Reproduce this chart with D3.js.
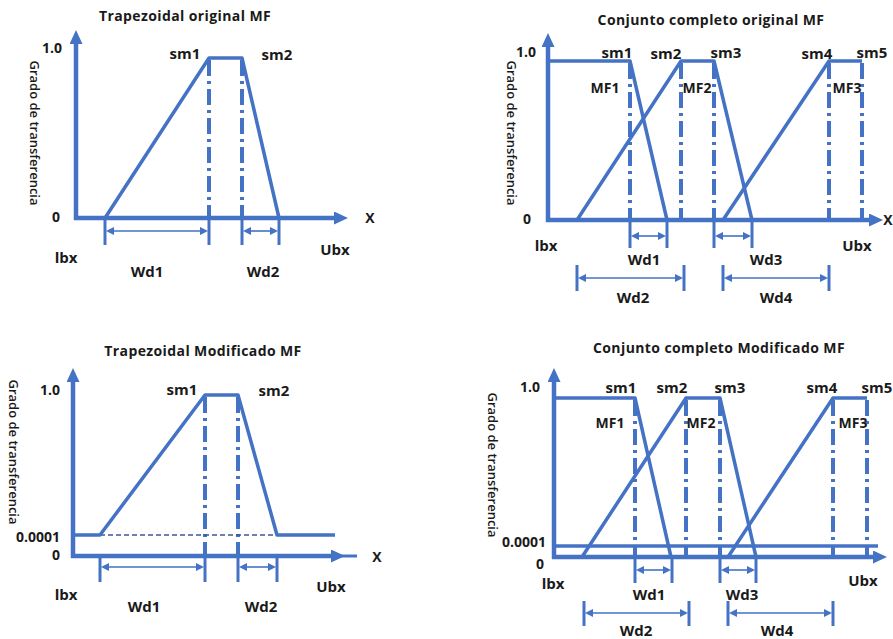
<!DOCTYPE html>
<html lang="es">
<head>
<meta charset="UTF-8">
<script src="https://d3js.org/d3.v7.min.js"></script>
<title>Funciones de pertenencia trapezoidales</title>
<style>
  body { margin: 0; background: #fff; }
  text { font-family: "Open Sans", sans-serif; font-weight: 700; fill: #1a1a1a; }
</style>
</head>
<body>
<svg width="893" height="639"></svg>
<script>
// ---- data: x in panel units (from the y axis), y = grado de transferencia ----
var origTrap = [[29,0],[133,1],[166,1],[203,0]];
var modTrap  = [[0,0.0001],[27,0.0001],[132,1],[165,1],[204,0.0001],[262,0.0001]];
var origMF1 = [[0,1],[82,1],[119,0]];
var origMF2 = [[29,0],[133,1],[166,1],[204,0]];
var origMF3 = [[175,0],[281,1],[314,1]];
var modMF1 = [[0,1],[81,1],[117,0]];
var modMF2 = [[28,0],[132,1],[166,1],[202,0]];
var modMF3 = [[174,0],[279,1],[313,1]];
var modFloor = [[0,0.0001],[324,0.0001]];
var modDashed = [[27,0.0001],[204,0.0001]];

// centres of the core (dash-dot verticals)
var smOrigTrap = [133,166];
var smModTrap  = [132,165];
var smOrigSet  = [82,133,166,281,314];
var smModSet   = [81,132,166,279,313];

// widths: [from, to, name]
var wdOrigTrap = [[29,133,"Wd1"],[166,203,"Wd2"]];
var wdModTrap  = [[27,132,"Wd1"],[165,204,"Wd2"]];
var wdOrigSetA = [[82,119,"Wd1"],[166,204,"Wd3"]];
var wdOrigSetB = [[29,136,"Wd2"],[175,281,"Wd4"]];
var wdModSetA  = [[81,118,"Wd1"],[166,202,"Wd3"]];
var wdModSetB  = [[30,135,"Wd2"],[174,279,"Wd4"]];

var yTicksOrig = [1, 0];
var yTicksMod  = [1, 0.0001, 0];
var yTickText  = function(v) { return v === 1 ? "1.0" : v === 0 ? "0" : "0.0001"; };

var blue = "#4472c4";
var svg = d3.select("svg");
var defs = svg.append("defs");

function marker(id, len, wid) {
  defs.append("marker").attr("id", id)
    .attr("viewBox", "0 0 10 10").attr("refX", 0).attr("refY", 5)
    .attr("preserveAspectRatio", "none")
    .attr("markerUnits", "userSpaceOnUse")
    .attr("markerWidth", len).attr("markerHeight", wid)
    .attr("orient", "auto-start-reverse")
    .append("path").attr("d", "M0,0L10,5L0,10Z").attr("fill", blue);
}
marker("axHead", 14, 13);
marker("dimHead", 8, 8);

function drawPanel(p) {
  var g = svg.append("g");
  var x = d3.scaleLinear().domain([0, p.len]).range([p.ox, p.ox + p.len]);
  var y = p.mod
    ? d3.scaleLinear().domain([0, 0.0001, 1]).range([p.oy, p.yEps, p.y1])
    : d3.scaleLinear().domain([0, 1]).range([p.oy, p.y1]);
  var line = d3.line().x(function(d) { return x(d[0]); }).y(function(d) { return y(d[1]); });

  // title
  g.append("text").attr("x", p.title[1]).attr("y", p.title[2])
    .attr("text-anchor", "middle").style("font-size", "14px").style("letter-spacing", "0.4px")
    .text(p.title[0]);

  // y label
  g.append("text")
    .attr("transform", "translate(" + p.ylab[0] + "," + p.ylab[1] + ") rotate(90)")
    .attr("text-anchor", "middle").attr("dominant-baseline", "central")
    .style("font-size", "13px").style("font-weight", "600")
    .text("Grado de transferencia");

  // dash-dot verticals
  g.selectAll(".sm").data(p.sm).enter().append("line")
    .attr("x1", function(d) { return x(d); }).attr("x2", function(d) { return x(d); })
    .attr("y1", y(1) + 2).attr("y2", y(0))
    .attr("stroke", blue).attr("stroke-width", 4)
    .attr("stroke-dasharray", "16,5,3,5");

  // dashed floor line (modified)
  if (p.dashed) {
    g.append("path").attr("d", line(p.dashed)).attr("fill", "none")
      .attr("stroke", "#3b5a94").attr("stroke-width", 1.3).attr("stroke-dasharray", "5,3");
  }

  // membership functions
  g.selectAll(".mf").data(p.mfs).enter().append("path")
    .attr("d", line).attr("fill", "none")
    .attr("stroke", blue).attr("stroke-width", 3.5).attr("stroke-linejoin", "round");

  // axes
  g.append("line").attr("x1", p.ox).attr("x2", p.ox)
    .attr("y1", p.oy + 2).attr("y2", p.top + 14)
    .attr("stroke", blue).attr("stroke-width", 4.5).attr("marker-end", "url(#axHead)");
  g.append("line").attr("x1", p.ox - 2).attr("x2", x(p.len) - 14)
    .attr("y1", p.oy).attr("y2", p.oy)
    .attr("stroke", blue).attr("stroke-width", 4.5).attr("marker-end", "url(#axHead)");
  if (p.xTail) {
    g.append("line").attr("x1", x(p.len) - 4).attr("x2", p.xTail)
      .attr("y1", p.oy).attr("y2", p.oy).attr("stroke", blue).attr("stroke-width", 3);
  }

  // y tick labels
  g.selectAll(".yt").data(p.yTicks).enter().append("text")
    .attr("x", function(d, i) { return p.ox + p.yTickPos[i][0]; })
    .attr("y", function(d, i) { return y(d) + p.yTickPos[i][1]; })
    .attr("text-anchor", "end").style("font-size", "14px")
    .text(yTickText);

  // width dimensions
  p.dims.forEach(function(dim) {
    dim.data.forEach(function(w, i) {
      [w[0], w[1]].forEach(function(v) {
        g.append("line").attr("x1", x(v)).attr("x2", x(v))
          .attr("y1", dim.t0).attr("y2", dim.t1)
          .attr("stroke", blue).attr("stroke-width", 3);
      });
      g.append("line").attr("x1", x(w[0]) + 9).attr("x2", x(w[1]) - 9)
        .attr("y1", dim.ay).attr("y2", dim.ay)
        .attr("stroke", blue).attr("stroke-width", 1.6)
        .attr("marker-start", "url(#dimHead)").attr("marker-end", "url(#dimHead)");
      g.append("text").attr("x", dim.lx[i]).attr("y", dim.ly)
        .attr("text-anchor", "middle").style("font-size", "15px").text(w[2]);
    });
  });

  // point labels
  p.labels.forEach(function(l) {
    g.append("text").attr("x", l[1]).attr("y", l[2])
      .attr("text-anchor", "middle").style("font-size", l[3] || "15px").text(l[0]);
  });
}

drawPanel({
  ox: 76, oy: 218, len: 272, top: 30, y1: 58,
  title: ["Trapezoidal original MF", 185, 21],
  ylab: [35, 133],
  sm: smOrigTrap, mfs: [origTrap],
  yTicks: yTicksOrig, yTickPos: [[-14, -5], [-16, 4]],
  dims: [{ data: wdOrigTrap, t0: 218, t1: 245, ay: 231, lx: [147, 263], ly: 277 }],
  labels: [["sm1", 185, 59], ["sm2", 277, 60], ["lbx", 66, 263], ["Ubx", 335, 255], ["X", 370, 223, "14px"]]
});

drawPanel({
  ox: 548, oy: 220, len: 335, top: 33, y1: 61,
  title: ["Conjunto completo original MF", 711, 25],
  ylab: [512, 133],
  sm: smOrigSet, mfs: [origMF1, origMF2, origMF3],
  yTicks: yTicksOrig, yTickPos: [[-12, -4], [-17, 4]],
  dims: [
    { data: wdOrigSetA, t0: 221, t1: 248, ay: 236, lx: [644, 766], ly: 265 },
    { data: wdOrigSetB, t0: 265, t1: 291, ay: 278, lx: [633, 776], ly: 303 }
  ],
  labels: [["sm1", 617, 58], ["sm2", 666, 59], ["sm3", 726, 58], ["sm4", 817, 59], ["sm5", 872, 58],
           ["MF1", 605, 93, "14px"], ["MF2", 697, 93, "14px"], ["MF3", 847, 93, "14px"],
           ["lbx", 546, 251], ["Ubx", 857, 251], ["X", 888, 225, "14px"]]
});

drawPanel({
  ox: 73, oy: 556, len: 272, top: 368, y1: 395, yEps: 535, mod: true, xTail: 357,
  title: ["Trapezoidal Modificado MF", 203, 356],
  ylab: [14, 452],
  sm: smModTrap, mfs: [modTrap], dashed: modDashed,
  yTicks: yTicksMod, yTickPos: [[-13, 0], [-13, 7], [-13, 4]],
  dims: [{ data: wdModTrap, t0: 557, t1: 582, ay: 567, lx: [144, 261], ly: 612 }],
  labels: [["sm1", 182, 395], ["sm2", 274, 396], ["lbx", 66, 600], ["Ubx", 331, 592], ["X", 377, 562, "14px"]]
});

drawPanel({
  ox: 554, oy: 557, len: 333, top: 368, y1: 398, yEps: 546, mod: true,
  title: ["Conjunto completo Modificado MF", 719, 353],
  ylab: [493, 465],
  sm: smModSet, mfs: [modFloor, modMF1, modMF2, modMF3],
  yTicks: yTicksMod, yTickPos: [[-14, -6], [-8, 1], [-10, 12]],
  dims: [
    { data: wdModSetA, t0: 558, t1: 583, ay: 570, lx: [649, 742], ly: 600 },
    { data: wdModSetB, t0: 601, t1: 626, ay: 613, lx: [636, 777], ly: 636 }
  ],
  labels: [["sm1", 621, 393], ["sm2", 672, 393], ["sm3", 730, 393], ["sm4", 822, 393], ["sm5", 877, 393],
           ["MF1", 610, 428, "14px"], ["MF2", 701, 428, "14px"], ["MF3", 853, 428, "14px"],
           ["lbx", 553, 589], ["Ubx", 863, 586]]
});
</script>
</body>
</html>
